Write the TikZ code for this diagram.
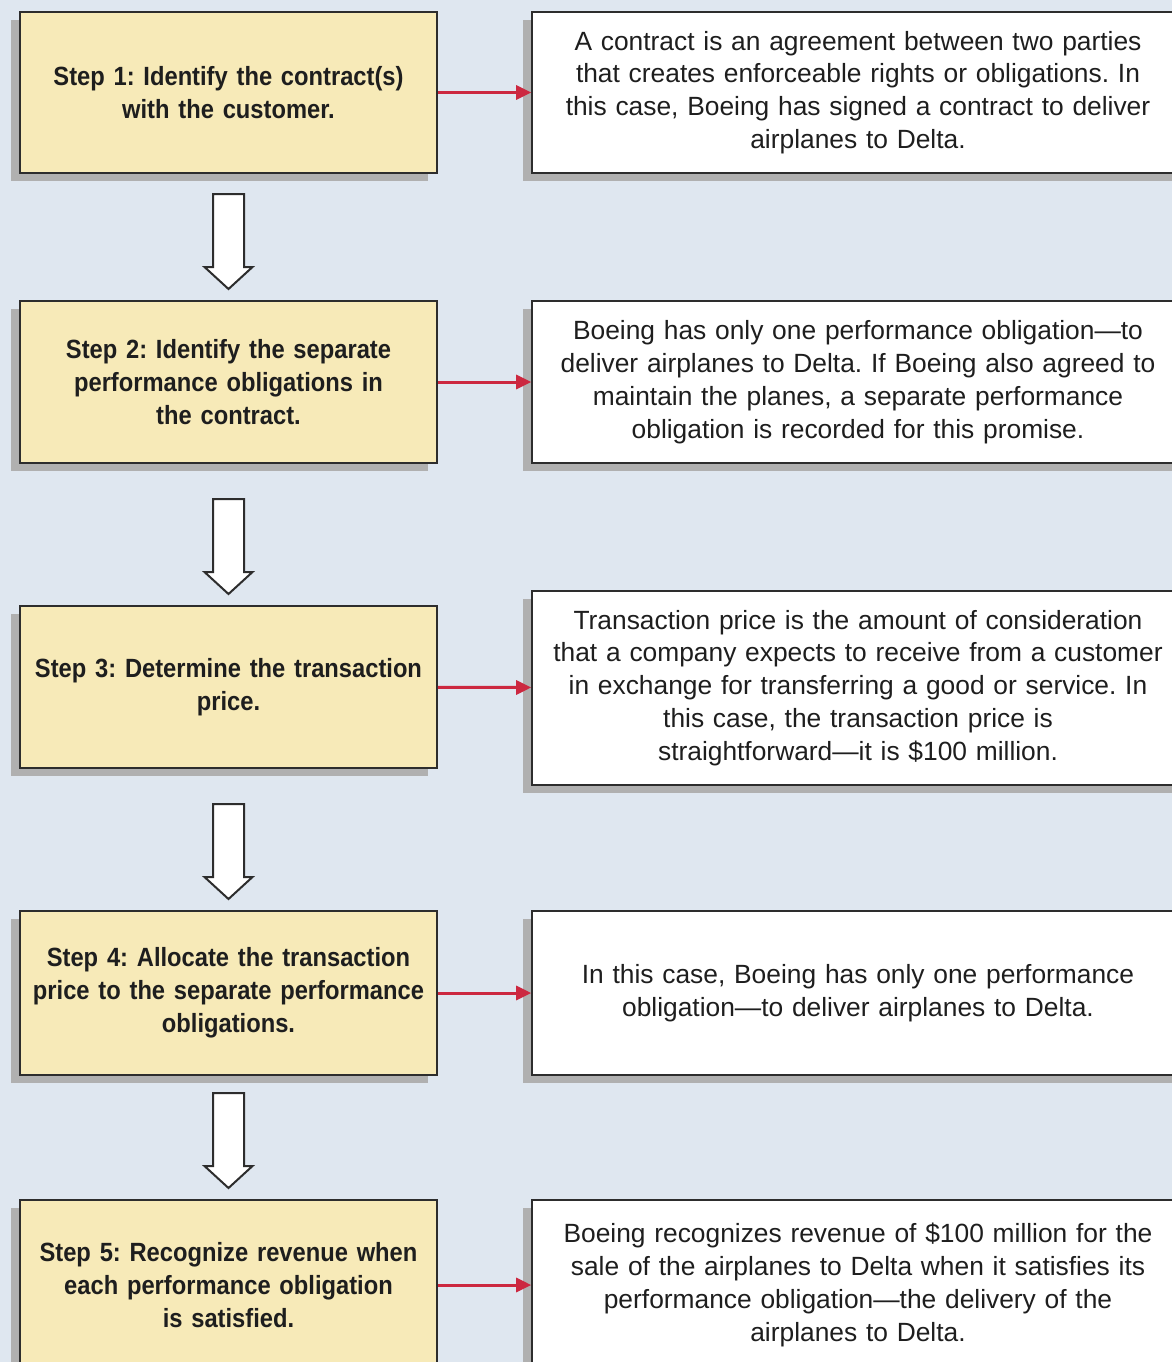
\documentclass[tikz,border=0pt]{standalone}
\usepackage{fontspec}
\setmainfont{Liberation Sans}
\newfontfamily\stepfont{Liberation Sans}[FakeStretch=0.9]
\usetikzlibrary{shadows,arrows.meta,calc}
\frenchspacing

\definecolor{bgblue}{RGB}{223,231,240}
\definecolor{stepyellow}{RGB}{247,234,184}
\definecolor{boxline}{RGB}{45,45,45}
\definecolor{shadowgray}{RGB}{176,176,176}
\definecolor{linkred}{RGB}{204,40,64}
\definecolor{textgray}{RGB}{30,30,30}

\tikzset{
  stepbox/.style={draw=boxline, line width=0.04cm, fill=stepyellow, text=textgray,
    minimum width=8.34cm, minimum height=3.22cm, text width=8cm, align=center,
    font=\stepfont\bfseries\fontsize{15}{18.7}\selectfont,
    drop shadow={shadow xshift=-0.18cm, shadow yshift=-0.16cm, fill=shadowgray, opacity=1}},
  notebox/.style={draw=boxline, line width=0.04cm, fill=white, text=textgray,
    minimum width=13cm, minimum height=3.22cm, text width=12.8cm, align=center,
    font=\fontsize{15}{18.7}\selectfont,
    drop shadow={shadow xshift=-0.18cm, shadow yshift=-0.16cm, fill=shadowgray, opacity=1}},
  link/.style={draw=linkred, line width=0.06cm, -{Triangle[length=0.3cm, width=0.28cm]}},
  downarrow/.style={draw=boxline, line width=0.04cm, fill=white}
}

\begin{document}
\begin{tikzpicture}[x=0.02cm, y=-0.02cm]
  \path[use as bounding box, clip] (0,0) rectangle (1172,1362);
  \fill[bgblue] (0,0) rectangle (1172,1362);

  % Steps
  \node[stepbox] (s1) at (228.5,92.5) {Step 1: Identify the contract(s)\\with the customer.};
  \node[stepbox, minimum height=3.24cm] (s2) at (228.5,382) {Step 2: Identify the separate\\performance obligations in\\the contract.};
  \node[stepbox, minimum height=3.24cm] (s3) at (228.5,687) {Step 3: Determine the transaction\\price.};
  \node[stepbox, minimum height=3.28cm] (s4) at (228.5,993) {Step 4: Allocate the transaction\\price to the separate performance\\obligations.};
  \node[stepbox, minimum height=3.4cm] (s5) at (228.5,1285) {Step 5: Recognize revenue when\\each performance obligation\\is satisfied.};

  % Notes
  \node[notebox] (n1) at (858,92.5) {A contract is an agreement between two parties\\that creates enforceable rights or obligations. In\\this case, Boeing has signed a contract to deliver\\airplanes to Delta.};
  \node[notebox, minimum height=3.24cm] (n2) at (858,382) {Boeing has only one performance obligation—to\\deliver airplanes to Delta. If Boeing also agreed to\\maintain the planes, a separate performance\\obligation is recorded for this promise.};
  \node[notebox, minimum height=3.88cm] (n3) at (858,688) {Transaction price is the amount of consideration\\that a company expects to receive from a customer\\in exchange for transferring a good or service. In\\this case, the transaction price is\\straightforward—it is \$100 million.};
  \node[notebox, minimum height=3.28cm] (n4) at (858,993) {In this case, Boeing has only one performance\\obligation—to deliver airplanes to Delta.};
  \node[notebox, minimum height=3.4cm] (n5) at (858,1285) {Boeing recognizes revenue of \$100 million for the\\sale of the airplanes to Delta when it satisfies its\\performance obligation—the delivery of the\\airplanes to Delta.};

  % Links
  \foreach \i in {1,...,5}
    \draw[link] (s\i) -- (n\i);

  % Down arrows
  \foreach \a/\b in {s1/s2,s2/s3,s3/s4,s4/s5}
    \draw[downarrow] ($(\b.north)+(0,-11)$) -- ++(-24,-22) -- ++(8.5,0) -- ++(0,-73)
      -- ++(31,0) -- ++(0,73) -- ++(8.5,0) -- cycle;
\end{tikzpicture}
\end{document}
